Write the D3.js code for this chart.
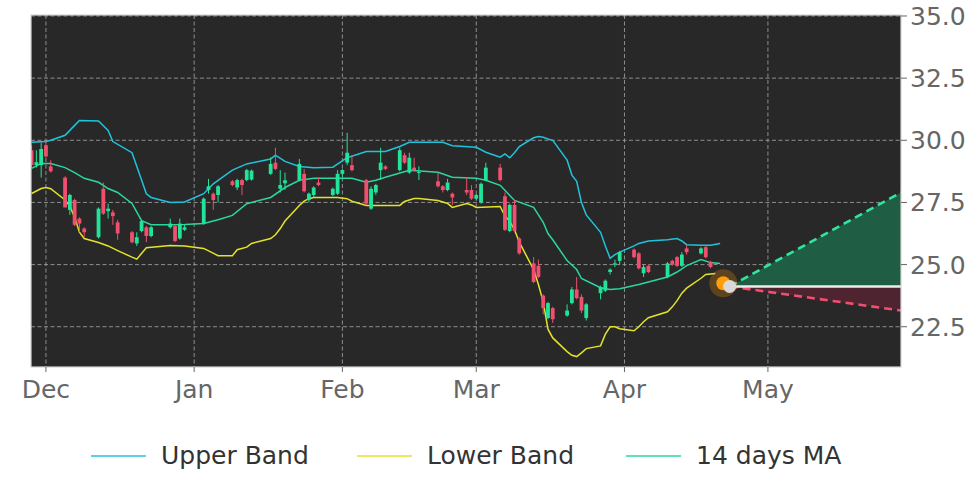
<!DOCTYPE html>
<html><head><meta charset="utf-8">
<script src="https://cdn.jsdelivr.net/npm/d3@7"></script>
<style>html,body{margin:0;padding:0;background:#fff;}svg{display:block;font-family:"DejaVu Sans",sans-serif;}</style>
</head><body><div id="chart"></div>
<script>
// ---------- data ----------
const candleDates = ["2022-11-28","2022-11-29","2022-11-30","2022-12-01","2022-12-02",
"2022-12-05","2022-12-06","2022-12-07","2022-12-08","2022-12-09",
"2022-12-12","2022-12-13","2022-12-14","2022-12-15","2022-12-16",
"2022-12-19","2022-12-20","2022-12-21","2022-12-22","2022-12-23",
"2022-12-27","2022-12-28","2022-12-29","2022-12-30",
"2023-01-03","2023-01-04","2023-01-05","2023-01-06",
"2023-01-09","2023-01-10","2023-01-11","2023-01-12","2023-01-13",
"2023-01-17","2023-01-18","2023-01-19","2023-01-20",
"2023-01-23","2023-01-24","2023-01-25","2023-01-26","2023-01-27",
"2023-01-30","2023-01-31","2023-02-01","2023-02-02","2023-02-03",
"2023-02-06","2023-02-07","2023-02-08","2023-02-09","2023-02-10",
"2023-02-13","2023-02-14","2023-02-15","2023-02-16","2023-02-17",
"2023-02-21","2023-02-22","2023-02-23","2023-02-24",
"2023-02-27","2023-02-28","2023-03-01","2023-03-02","2023-03-03",
"2023-03-06","2023-03-07","2023-03-08","2023-03-09","2023-03-10",
"2023-03-13","2023-03-14","2023-03-15","2023-03-16","2023-03-17",
"2023-03-20","2023-03-21","2023-03-22","2023-03-23","2023-03-24",
"2023-03-27","2023-03-28","2023-03-29","2023-03-30","2023-03-31",
"2023-04-03","2023-04-04","2023-04-05","2023-04-06",
"2023-04-10","2023-04-11","2023-04-12","2023-04-13","2023-04-14",
"2023-04-17","2023-04-18","2023-04-19"];
const opens = [29.6,29.0,29.0,29.8,28.95, 28.5,27.2,27.6,26.85,26.45, 26.1,28.05,27.15,27.1,26.7,
26.3,25.85,26.35,26.5,26.15, 26.5,26.55,26.05,26.4, 26.65,28.0,27.85,27.8, 28.35,28.1,28.4,28.4,28.42,
28.65,29.1,28.05,28.27, 28.4,28.65,27.6,27.8,28.3, 27.8,27.85,28.65,29.1,29.0,
28.4,27.25,27.9,28.8,28.95, 28.8,29.4,28.7,28.9,28.68, 28.35,28.15,28.0,27.85,
28.0,28.0,27.65,27.5,28.4, 28.9,27.75,26.35,27.4,26.05, 25.05,24.95,23.75,22.85,23.25,
22.95,23.45,24.0,23.7,22.85, 23.85,23.95,24.7,25.0,25.15, 25.6,25.45,24.65,24.95,
24.5,25.15,25.3,24.95,25.65, 25.45,25.7,25.1];
const highs = [29.8,29.6,29.9,29.95,29.2, 28.55,27.85,27.65,26.9,26.5, 27.3,28.3,27.45,27.2,26.8,
26.35,26.3,26.8,26.55,26.55, 26.85,26.6,26.85,26.6, 27.7,28.45,27.9,28.2, 28.4,28.45,28.45,28.85,28.82,
29.3,29.7,28.8,28.7, 29.25,28.85,27.9,28.15,28.5, 28.1,28.8,28.85,30.3,29.4,
28.45,28.15,28.25,29.7,29.0, 29.7,29.5,29.5,29.3,28.95, 28.7,28.2,28.45,27.9,
28.5,28.2,27.85,28.3,29.1, 29.05,27.9,27.45,27.6,26.1, 25.3,25.2,23.8,23.5,23.3,
23.4,24.1,24.5,23.8,23.45, 24.15,24.4,24.85,25.2,25.55, 25.65,25.5,25.0,25.0,
25.1,25.2,25.35,25.5,25.8, 25.7,25.75,25.15];
const lows = [28.9,28.9,28.5,29.3,28.7, 27.3,27.0,26.55,26.3,26.1, 26.05,27.0,26.85,26.6,26.0,
25.85,25.75,26.3,25.9,26.1, 26.45,25.9,26.0,26.35, 26.6,27.85,27.2,27.5, 28.15,28.0,27.8,28.35,28.38,
28.6,28.8,27.9,28.0, 28.35,27.9,27.5,27.7,28.15, 27.75,27.8,28.5,29.0,28.75,
27.4,27.2,27.8,28.4,28.8, 28.75,29.05,28.65,28.75,28.4, 28.1,27.9,27.95,27.4,
27.8,27.6,27.6,27.45,28.35, 28.35,26.35,26.3,26.3,25.4, 24.25,24.45,23.0,22.8,22.65,
22.9,23.4,23.6,23.05,22.75, 23.6,23.9,24.6,24.9,25.0, 25.25,24.8,24.5,24.65,
24.45,24.95,24.9,24.9,25.4, 25.4,25.25,24.85];
const closes = [29.0,29.12,29.65,29.35,28.75, 27.3,27.8,26.6,26.65,26.3, 27.25,27.05,27.25,26.95,26.25,
25.9,26.1,26.75,26.15,26.5, 26.65,25.95,26.65,26.5, 27.65,28.15,27.6,28.15, 28.2,28.4,28.2,28.8,28.78,
29.05,28.85,28.2,28.39, 29.05,27.95,27.85,28.1,28.2, 28.05,28.65,28.8,29.5,28.8,
27.45,28.05,28.2,29.1,28.85, 29.6,29.1,29.3,28.8,28.72, 28.15,28.0,28.3,27.7,
27.9,27.65,27.8,28.25,28.9, 28.4,26.4,27.4,26.35,25.45, 24.3,24.5,23.25,23.45,22.8,
23.15,24.0,23.65,23.15,23.4, 24.1,24.35,24.8,25.05,25.5, 25.3,24.85,24.9,24.7,
25.05,25.0,24.95,25.4,25.5, 25.65,25.3,24.9];

const upperDates = ["2022-11-28","2022-12-01","2022-12-02","2022-12-05","2022-12-07","2022-12-08","2022-12-12","2022-12-14","2022-12-15","2022-12-19","2022-12-21","2022-12-22","2022-12-23","2022-12-27","2022-12-30","2023-01-03","2023-01-05","2023-01-09","2023-01-12","2023-01-17","2023-01-18","2023-01-20","2023-01-23","2023-01-26","2023-01-30","2023-02-02","2023-02-06","2023-02-10","2023-02-13","2023-02-15","2023-02-22","2023-02-24","2023-03-01","2023-03-03","2023-03-06","2023-03-07","2023-03-08","2023-03-09","2023-03-10","2023-03-13","2023-03-14","2023-03-15","2023-03-16","2023-03-17","2023-03-20","2023-03-21","2023-03-22","2023-03-23","2023-03-24","2023-03-27","2023-03-28","2023-03-29","2023-03-30","2023-03-31","2023-04-03","2023-04-04","2023-04-06","2023-04-10","2023-04-12","2023-04-13","2023-04-14","2023-04-17","2023-04-19","2023-04-21"];
const upperVals = [29.92,29.95,30.0,30.2,30.6,30.8,30.78,30.4,29.95,29.5,28.4,27.85,27.7,27.5,27.52,27.85,28.25,28.8,29.05,29.25,29.4,29.15,28.95,28.9,28.92,29.3,29.55,29.55,29.75,29.92,29.92,29.78,29.72,29.52,29.32,29.45,29.3,29.5,29.75,30.1,30.15,30.12,30.05,30.0,29.2,28.6,28.35,27.5,27.0,26.3,25.75,25.25,25.4,25.5,25.75,25.85,25.95,26.0,26.05,25.95,25.8,25.78,25.78,25.85];

const lowerDates = ["2022-11-28","2022-11-30","2022-12-01","2022-12-02","2022-12-05","2022-12-06","2022-12-07","2022-12-08","2022-12-09","2022-12-12","2022-12-14","2022-12-16","2022-12-19","2022-12-20","2022-12-22","2022-12-27","2022-12-30","2023-01-03","2023-01-06","2023-01-09","2023-01-10","2023-01-12","2023-01-13","2023-01-17","2023-01-18","2023-01-19","2023-01-20","2023-01-23","2023-01-24","2023-01-25","2023-01-26","2023-01-31","2023-02-02","2023-02-03","2023-02-06","2023-02-13","2023-02-14","2023-02-16","2023-02-17","2023-02-21","2023-02-23","2023-02-24","2023-02-27","2023-02-28","2023-03-01","2023-03-06","2023-03-07","2023-03-08","2023-03-09","2023-03-10","2023-03-13","2023-03-14","2023-03-15","2023-03-16","2023-03-17","2023-03-20","2023-03-21","2023-03-22","2023-03-23","2023-03-24","2023-03-27","2023-03-28","2023-03-29","2023-03-30","2023-03-31","2023-04-03","2023-04-04","2023-04-05","2023-04-06","2023-04-10","2023-04-11","2023-04-12","2023-04-13","2023-04-14","2023-04-17","2023-04-18","2023-04-19","2023-04-20"];
const lowerVals = [27.86,28.06,28.1,28.05,27.6,27.35,26.9,26.3,26.05,25.89,25.75,25.56,25.3,25.22,25.68,25.77,25.75,25.65,25.36,25.36,25.6,25.7,25.85,26.05,26.2,26.45,26.75,27.38,27.55,27.65,27.7,27.7,27.65,27.55,27.38,27.38,27.54,27.66,27.66,27.58,27.46,27.3,27.46,27.4,27.3,27.34,26.95,26.75,26.4,25.9,24.8,24.2,23.5,22.4,22.05,21.5,21.35,21.3,21.45,21.62,21.73,22.2,22.5,22.5,22.42,22.34,22.5,22.7,22.86,23.1,23.3,23.55,23.85,24.05,24.45,24.6,24.62,24.64];

const maDates = ["2022-11-28","2022-11-30","2022-12-02","2022-12-05","2022-12-07","2022-12-09","2022-12-12","2022-12-14","2022-12-16","2022-12-19","2022-12-21","2022-12-23","2022-12-27","2022-12-30","2023-01-03","2023-01-06","2023-01-09","2023-01-12","2023-01-17","2023-01-20","2023-01-23","2023-01-26","2023-02-01","2023-02-03","2023-02-06","2023-02-08","2023-02-10","2023-02-15","2023-02-21","2023-02-24","2023-03-01","2023-03-03","2023-03-06","2023-03-09","2023-03-13","2023-03-15","2023-03-16","2023-03-17","2023-03-20","2023-03-22","2023-03-23","2023-03-27","2023-03-29","2023-03-31","2023-04-04","2023-04-06","2023-04-10","2023-04-12","2023-04-14","2023-04-17","2023-04-19","2023-04-21"];
const maVals = [28.87,29.07,29.07,28.9,28.7,28.47,28.31,28.06,27.9,27.46,26.77,26.6,26.6,26.61,26.65,26.8,26.98,27.45,27.7,28.1,28.39,28.47,28.47,28.47,28.31,28.39,28.51,28.79,28.71,28.51,28.47,28.39,28.19,27.58,27.3,26.7,26.25,26.0,25.16,24.8,24.44,24.07,24.0,24.03,24.2,24.3,24.5,24.7,24.96,25.2,25.08,25.04];

const lastPrice = {date: "2023-04-21T16:00:00Z", value: 24.25};
const forecastStart = {date: "2023-04-23T00:00:00Z", value: 24.12};
const forecastEnd = {date: "2023-05-28T20:00:00Z", upper: 27.9, lower: 23.15};

const yTicks = [22.5, 25.0, 27.5, 30.0, 32.5, 35.0];
const monthTicks = ["2022-12-01","2023-01-01","2023-02-01","2023-03-01","2023-04-01","2023-05-01"];
const monthLabels = ["Dec","Jan","Feb","Mar","Apr","May"];
const legendLabels = ["Upper Band","Lower Band","14 days MA"];

// ---------- layout ----------
const W = 972, H = 486;
const L = 31, R = 901, T = 15, B = 367;
const FS = 25;
const parse = d3.isoParse;
const COL = {bg:"#282828", up:"#22e39a", down:"#f04f6d", upper:"#1fc4dc", lower:"#e3e32a", ma:"#2bd6a0", text:"#666"};

const x = d3.scaleUtc().domain([new Date(Date.UTC(2022,10,27,21)), new Date(Date.UTC(2023,4,28,20))]).range([L, R]);
const y = d3.scaleLinear().domain([20.88, 35.04]).range([B, T]);

const svg = d3.select("#chart").append("svg").attr("width", W).attr("height", H);
svg.append("rect").attr("width", W).attr("height", H).attr("fill", "#fff");
svg.append("defs").append("clipPath").attr("id","clip").append("rect").attr("x",L).attr("y",T).attr("width",R-L).attr("height",B-T);
svg.append("rect").attr("x",L).attr("y",T).attr("width",R-L).attr("height",B-T).attr("fill",COL.bg);

const g = svg.append("g").attr("clip-path","url(#clip)");

// grid
g.selectAll(".hg").data(yTicks).enter().append("line")
  .attr("x1",L).attr("x2",R).attr("y1",d=>y(d)).attr("y2",d=>y(d))
  .attr("stroke","#9a9a9a").attr("stroke-width",0.9).attr("stroke-dasharray","4,2.5");
g.selectAll(".vg").data(monthTicks).enter().append("line")
  .attr("y1",T).attr("y2",B).attr("x1",d=>x(parse(d))).attr("x2",d=>x(parse(d)))
  .attr("stroke","#9a9a9a").attr("stroke-width",0.9).attr("stroke-dasharray","4,2.5");

// forecast cone
const fx0 = x(parse(forecastStart.date));
const upCone = [{d:parse(forecastStart.date), a:forecastStart.value, b:forecastStart.value},{d:parse(forecastEnd.date), a:forecastStart.value, b:forecastEnd.upper}];
const dnCone = [{d:parse(forecastStart.date), a:forecastStart.value, b:forecastStart.value},{d:parse(forecastEnd.date), a:forecastStart.value, b:forecastEnd.lower}];
const coneArea = d3.area().x(d=>x(d.d)).y0(d=>y(d.a)).y1(d=>y(d.b));
g.append("path").datum(upCone).attr("d",coneArea).attr("fill","#1f5d45");
g.append("path").datum(dnCone).attr("d",coneArea).attr("fill","#4e2430");
const cline = d3.line().x(d=>x(d.d)).y(d=>y(d.b));
g.append("path").datum(upCone).attr("d",cline).attr("fill","none").attr("stroke","#2ee6a0").attr("stroke-width",2.6).attr("stroke-dasharray","8,5");
g.append("path").datum(dnCone).attr("d",cline).attr("fill","none").attr("stroke","#f04f6d").attr("stroke-width",2.6).attr("stroke-dasharray","8,5");
g.append("path").datum(upCone).attr("d",d3.line().x(d=>x(d.d)).y(d=>y(d.a))).attr("stroke","#eeeeee").attr("stroke-width",2.4).attr("fill","none");

// bands
const bandLine = d3.line().x(d=>x(d[0])).y(d=>y(d[1]));
function series(ds, vs){ return ds.map((d,i)=>[parse(d), vs[i]]); }
g.append("path").datum(series(upperDates, upperVals)).attr("d",bandLine).attr("fill","none").attr("stroke",COL.upper).attr("stroke-width",1.5);
g.append("path").datum(series(lowerDates, lowerVals)).attr("d",bandLine).attr("fill","none").attr("stroke",COL.lower).attr("stroke-width",1.5);
g.append("path").datum(series(maDates, maVals)).attr("d",bandLine).attr("fill","none").attr("stroke",COL.ma).attr("stroke-width",1.5);

// candles
const candles = candleDates.map((d,i)=>({d:parse(d), o:opens[i], h:highs[i], l:lows[i], c:closes[i]}));
const cw = 3.8;
const cg = g.selectAll(".c").data(candles).enter().append("g");
cg.append("line").attr("x1",d=>x(d.d)).attr("x2",d=>x(d.d)).attr("y1",d=>y(d.h)).attr("y2",d=>y(d.l))
  .attr("stroke",d=>d.c>=d.o?COL.up:COL.down).attr("stroke-width",1);
cg.append("rect").attr("x",d=>x(d.d)-cw/2).attr("width",cw)
  .attr("y",d=>y(Math.max(d.o,d.c))).attr("height",d=>Math.max(1,Math.abs(y(d.o)-y(d.c))))
  .attr("fill",d=>d.c>=d.o?COL.up:COL.down);

// dots
const lx = x(parse(lastPrice.date)), ly = y(lastPrice.value);
g.append("circle").attr("cx",lx).attr("cy",ly).attr("r",14).attr("fill","#ff9900").attr("opacity",0.25);
g.append("circle").attr("cx",lx).attr("cy",ly).attr("r",7).attr("fill","#ff9d0a");
g.append("circle").attr("cx",fx0).attr("cy",y(forecastStart.value)).attr("r",6.5).attr("fill","#d9d9d9");

// frame
svg.append("rect").attr("x",L).attr("y",T).attr("width",R-L).attr("height",B-T).attr("fill","none").attr("stroke","#d4d4d4").attr("stroke-width",1.2);

// y axis (right)
const ya = svg.append("g");
ya.selectAll("line").data(yTicks).enter().append("line").attr("x1",R).attr("x2",R+6).attr("y1",d=>y(d)).attr("y2",d=>y(d)).attr("stroke","#666").attr("stroke-width",1);
ya.selectAll("text").data(yTicks).enter().append("text").attr("x",R+9).attr("y",d=>y(d)).attr("dy","0.36em")
  .attr("font-size",FS).attr("fill",COL.text).text(d=>d3.format(".1f")(d));

// x axis
const xa = svg.append("g");
xa.selectAll("line").data(monthTicks).enter().append("line").attr("x1",d=>x(parse(d))).attr("x2",d=>x(parse(d))).attr("y1",B).attr("y2",B+5).attr("stroke","#666");
xa.selectAll("text").data(monthTicks).enter().append("text").attr("x",d=>x(parse(d))).attr("y",398).attr("text-anchor","middle")
  .attr("font-size",FS).attr("fill",COL.text).text((d,i)=>monthLabels[i]);

// legend
const legCols = [COL.upper, COL.lower, COL.ma];
const legX = [91, 357, 626];
const lg = svg.append("g");
legendLabels.forEach((t,i)=>{
  lg.append("line").attr("x1",legX[i]).attr("x2",legX[i]+55).attr("y1",456).attr("y2",456).attr("stroke",legCols[i]).attr("stroke-width",1.4);
  lg.append("text").attr("x",legX[i]+70).attr("y",464).attr("font-size",FS).attr("fill","#333").text(t);
});
</script></body></html>
